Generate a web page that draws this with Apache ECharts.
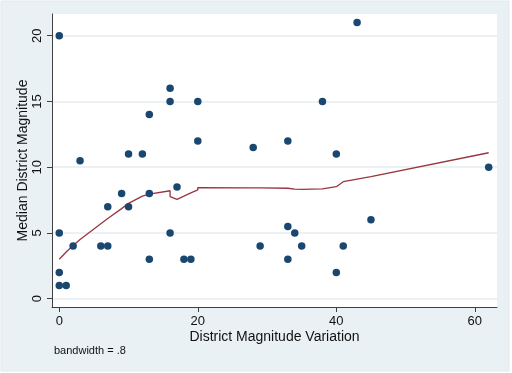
<!DOCTYPE html>
<html>
<head>
<meta charset="utf-8">
<script src="https://cdn.jsdelivr.net/npm/echarts@6/dist/echarts.min.js"></script>
<style>
html,body{margin:0;padding:0;background:#ffffff;}
#c{width:512px;height:373px;}
</style>
</head>
<body>
<div id="c"></div>
<script>
// Scatter observations: district magnitude variation (x) vs median district magnitude (y)
const pointX = [0,0,0,0,1,2,3,6,7,7,9,10,10,12,13,13,13,16,16,16,17,18,19,20,20,28,29,33,33,33,34,35,38,40,40,41,43,45,62];
const pointY = [20,5,2,1,1,4,10.5,4,4,7,8,7,11,11,14,8,3,16,15,5,8.5,3,3,15,12,11.5,4,12,5.5,3,5,4,15,11,2,4,21,6,10];
// Lowess smoother (bandwidth .8), fitted values in x order
const lowessX = [0,1,2,3,6,7,9,10,12,13,16,16,17,18,19,20,20,28,29,33,34,35,38,40,40,41,43,45,62];
const lowessY = [3.0,3.55,4.05,4.5,5.7,6.1,6.85,7.25,7.8,7.95,8.21,7.76,7.56,7.8,8.05,8.27,8.45,8.43,8.43,8.4,8.33,8.32,8.35,8.52,8.6,8.9,9.1,9.28,11.1];
const xTicks = [0,20,40,60];
const yTicks = [0,5,10,15,20];
const xTitle = 'District Magnitude Variation';
const yTitle = 'Median District Magnitude';
const note = 'bandwidth = .8';

const FONT = '"Liberation Sans", Arial, sans-serif';
const chart = echarts.init(document.getElementById('c'), null, {renderer:'canvas'});
chart.setOption({
  animation:false,
  backgroundColor:'#ffffff',
  graphic:[
    {type:'rect', z:-10, shape:{x:1,y:1,width:508,height:370}, style:{fill:'#e9f1f4', stroke:'#e0e9ee', lineWidth:1}},
    {type:'text', left:54, top:345, style:{text:note, font:'11px '+FONT, fill:'#111'}}
  ],
  grid:{left:52,right:15,top:14,bottom:66,show:true,backgroundColor:'#ffffff',borderWidth:0},
  xAxis:{
    type:'value', min:-1.05, max:63.2,
    name:xTitle, nameLocation:'middle', nameGap:23, nameMoveOverlap:false,
    nameTextStyle:{fontFamily:FONT,fontSize:14,color:'#111'},
    axisLine:{show:true,onZero:false,lineStyle:{color:'#404040',width:1}},
    axisTick:{show:true,length:5,customValues:xTicks,lineStyle:{color:'#404040'}},
    axisLabel:{customValues:xTicks,margin:8,fontFamily:FONT,fontSize:13,color:'#111'},
    splitLine:{show:false}
  },
  yAxis:{
    type:'value', min:-0.63, max:21.65,
    name:yTitle, nameLocation:'middle', nameGap:22, nameRotate:90, nameMoveOverlap:false,
    nameTextStyle:{fontFamily:FONT,fontSize:14,color:'#111'},
    axisLine:{show:true,onZero:false,lineStyle:{color:'#404040',width:1}},
    axisTick:{show:true,length:5,customValues:yTicks,lineStyle:{color:'#404040'}},
    axisLabel:{customValues:yTicks,rotate:90,margin:8,fontFamily:FONT,fontSize:13,color:'#111'},
    splitLine:{show:true,lineStyle:{color:'#e6eef1',width:1.5}}
  },
  series:[
    {type:'scatter', data:pointX.map((x,i)=>[x,pointY[i]]), symbol:'circle', symbolSize:7.5,
     itemStyle:{color:'#1a476f',opacity:1}, z:3},
    {type:'line', data:lowessX.map((x,i)=>[x,lowessY[i]]), showSymbol:false, symbol:'none',
     lineStyle:{color:'#9a3540',width:1.3}, z:2}
  ]
});
</script>
</body>
</html>
